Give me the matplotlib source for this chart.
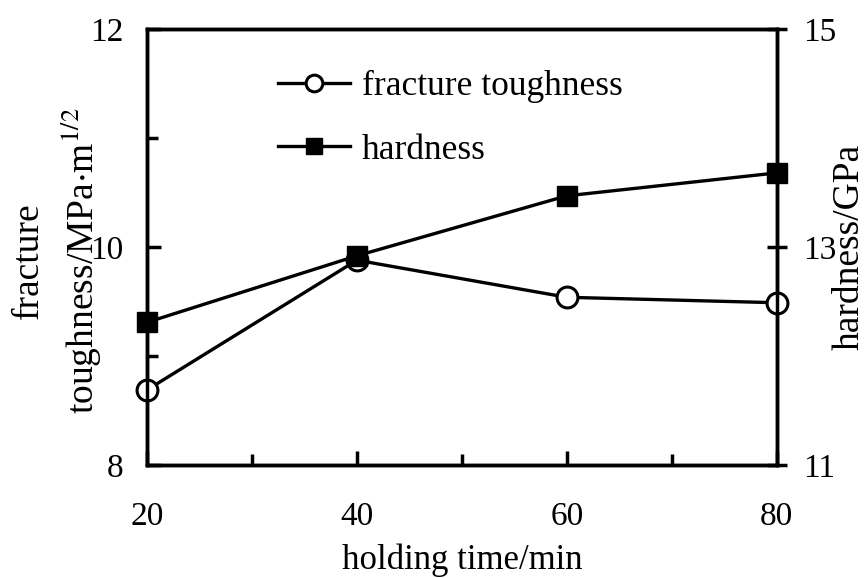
import numpy as np
import matplotlib.pyplot as plt

plt.rcParams['font.family'] = 'Liberation Serif'
plt.rcParams['mathtext.fontset'] = 'stix'

time_min = [20, 40, 60, 80]
toughness = [8.69, 9.88, 9.54, 9.49]   # MPa·m^1/2, left axis
hardness = [12.31, 12.92, 13.47, 13.68]  # GPa, right axis

fig = plt.figure(figsize=(8.64, 5.78), dpi=100)
ax = fig.add_axes([0.170, 0.195, 0.729, 0.755])
ax2 = ax.twinx()

l1, = ax.plot(time_min, toughness, 'k-', lw=2.4, marker='o', ms=15,
              mfc='white', mec='black', mew=2.2, clip_on=False, zorder=3)
l2, = ax2.plot(time_min, hardness, 'k-', lw=2.4, marker='s', ms=15,
               mfc='black', mec='black', clip_on=False, zorder=3)

ax.set_xlim(20, 80)
ax.set_ylim(8, 12)
ax2.set_ylim(11, 15)

ax.set_xticks([20, 40, 60, 80])
ax.set_xticks([30, 50, 70], minor=True)
ax.set_yticks([8, 10, 12])
ax.set_yticks([9, 11], minor=True)
ax2.set_yticks([11, 13, 15])

for a in (ax, ax2):
    for s in a.spines.values():
        s.set_linewidth(2.5)
ax.tick_params(axis='both', which='major', direction='in', length=10, width=2.5,
               labelsize=24, pad=17)
ax.tick_params(axis='both', which='minor', direction='in', length=8, width=2.5)
ax.tick_params(axis='x', pad=26)
ax2.tick_params(axis='y', direction='inout', length=14.4, width=2.5, labelsize=24, pad=11.5)

ax.set_xlabel('holding time/min', fontsize=25, labelpad=8)
ax.set_ylabel('fracture\ntoughness/MPa$\\cdot$m$^{1/2}$', fontsize=27, linespacing=1.4)
ax.yaxis.set_label_coords(-0.068, 0.469)
ax2.set_ylabel('hardness/GPa', fontsize=27)
ax2.yaxis.set_label_coords(1.088, 0.5)

ax.legend([l1, l2], ['fracture toughness', 'hardness'], loc='upper left',
          bbox_to_anchor=(0.157, 0.979), frameon=False, fontsize=25.5,
          handlelength=2.03, handletextpad=0.34, labelspacing=0.87, markerscale=0.8)

plt.savefig('out.png', dpi=100)
